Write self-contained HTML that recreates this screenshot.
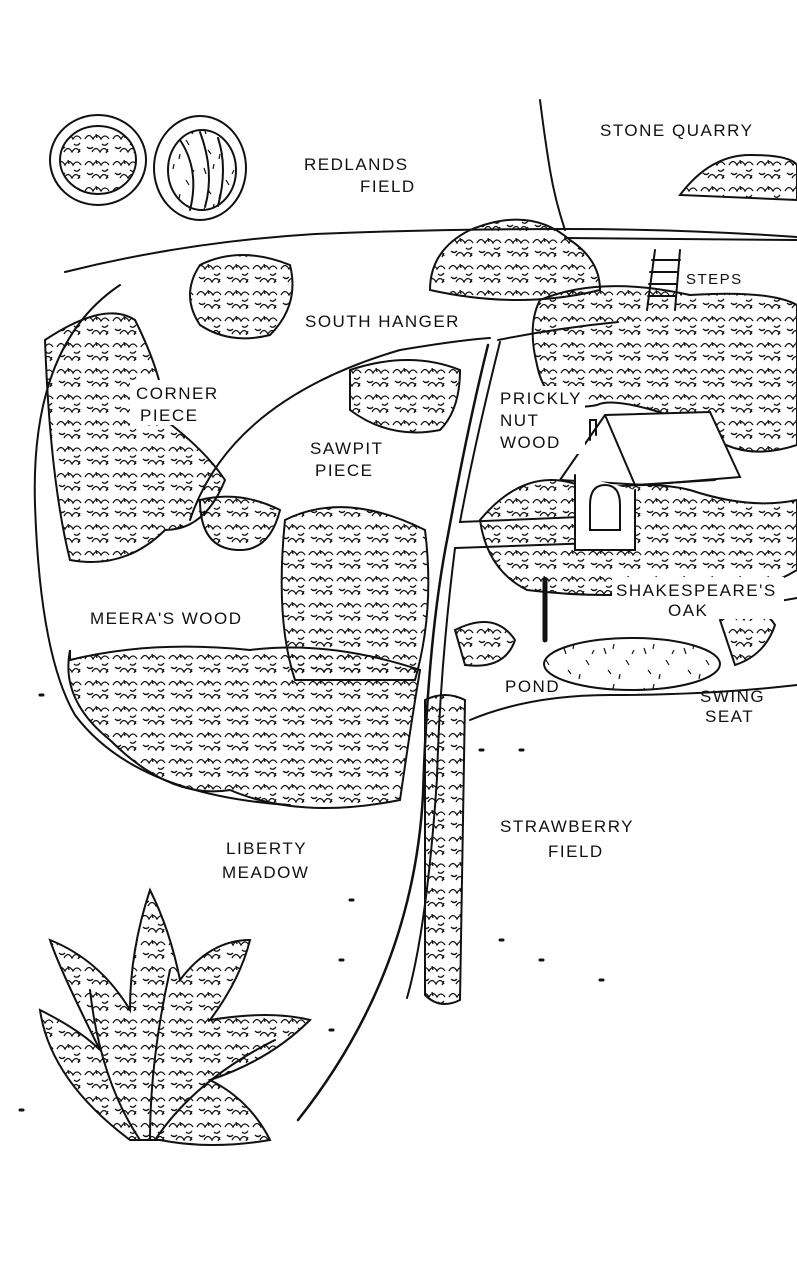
<!DOCTYPE html>
<html><head><meta charset="utf-8"><style>
html,body{margin:0;padding:0;background:#fff;}
svg{display:block}
text{font-family:"Liberation Sans",sans-serif;font-size:17px;letter-spacing:1.5px;fill:#111}
</style></head><body>
<svg width="797" height="1276" viewBox="0 0 797 1276" xmlns="http://www.w3.org/2000/svg">
<defs>
<pattern id="t" width="28" height="26" patternUnits="userSpaceOnUse">
<path d="M1 9 q4 -7 8 0 q4 -7 8 0 q4 -6 8 0 M8 22 q4 -7 8 0 q4 -7 8 0 M3 17 q3 3 6 0 M18 14 q3 3 6 -1 M12 4 l1 4 M24 19 l-2 4" fill="none" stroke="#111" stroke-width="1.3"/>
</pattern>
<pattern id="g" width="40" height="40" patternUnits="userSpaceOnUse">
<path d="M4 8 l2 6 M14 4 l-1 5 M26 20 l3 5 M34 10 l-2 4 M8 30 l3 4 M20 34 l-1 5" stroke="#111" stroke-width="1.2"/>
</pattern>
</defs>
<rect width="797" height="1276" fill="#fff"/>
<g fill="none" stroke="#111" stroke-width="2" stroke-linecap="round">
<ellipse cx="98" cy="160" rx="48" ry="45"/>
<ellipse cx="98" cy="160" rx="38" ry="34" fill="url(#t)"/>
<ellipse cx="200" cy="168" rx="46" ry="52"/>
<ellipse cx="202" cy="170" rx="34" ry="40" fill="url(#g)"/>
<path d="M180 140 q20 30 10 70 M200 132 q15 40 5 75 M218 138 q10 30 0 68"/>
<path d="M540 100 q5 40 10 70 q5 30 15 60"/>
<path d="M680 195 q30 -40 70 -40 q40 0 47 10 L797 200 Z" fill="url(#t)"/>
<path d="M65 272 q120 -30 250 -38 q120 -5 250 -5 q120 0 232 8"/>
<path d="M565 238 l232 2"/>
<path d="M655 250 l-8 60 M680 250 l-5 60 M652 260 h28 M650 272 h28 M649 284 h28 M648 296 h28"/>
<path d="M120 285 q-90 60 -85 220 q5 150 40 210 q60 80 215 90"/>
<path d="M190 520 q40 -120 210 -170 q60 -10 90 -12"/>
<path d="M498 340 q60 -12 120 -18"/>
<path d="M488 345 q-20 80 -40 190 q-20 100 -25 260 q-10 180 -125 325" stroke-width="2.5"/>
<path d="M500 342 q-25 100 -40 180 l120 -5"/>
<path d="M455 548 q-15 120 -18 230 q-10 150 -30 220"/>
<path d="M455 548 l140 -5"/>
<path d="M470 720 q60 -25 140 -25 q100 0 187 -10"/>
<path d="M740 608 l57 -10"/>
<path d="M430 290 q0 -40 40 -60 q60 -25 100 10 q30 20 30 50 q-80 20 -170 0z" fill="url(#t)"/>
<path d="M200 265 q40 -20 90 0 q10 40 -20 70 q-40 10 -70 -10 q-20 -30 0 -60z" fill="url(#t)"/>
<path d="M540 300 q60 -25 150 -5 q80 -5 107 10 l0 140 q-60 20 -100 -20 q-80 -30 -100 -20 q-50 10 -60 -40 q-10 -40 3 -65z" fill="url(#t)"/>
<path d="M45 340 q60 -40 90 -20 q30 60 30 100 q40 30 60 60 q-20 50 -60 50 q-40 40 -95 30 q-20 -80 -25 -220z" fill="url(#t)"/>
<path d="M350 370 q60 -20 110 0 q0 40 -20 60 q-50 10 -90 -20z" fill="url(#t)"/>
<path d="M285 520 q60 -30 140 10 q10 80 -10 150 l-120 0 q-20 -60 -10 -160z" fill="url(#t)"/>
<path d="M70 660 q80 -20 180 -10 q80 -10 170 20 q-10 60 -20 130 q-100 20 -170 -10 q-60 10 -120 -50 q-50 -40 -40 -90z" fill="url(#t)"/>
<path d="M200 500 q40 -10 80 10 q-10 40 -40 40 q-40 0 -40 -50z" fill="url(#t)"/>
<path d="M480 520 q50 -60 110 -30 q60 -10 100 0 q60 20 107 10 v70 q-50 30 -110 20 q-80 10 -160 0 q-40 -20 -47 -70z" fill="url(#t)"/>
<path d="M560 480 l45 -65 l105 -3 l30 65 l-95 8 z" fill="#fff"/>
<path d="M575 475 v75 h60 v-60" fill="#fff"/>
<path d="M605 415 l30 70 l80 -5"/>
<path d="M590 505 q0 -20 15 -20 q15 0 15 20 v25 h-30z"/>
<path d="M590 440 v-20 h6 v15"/>
<ellipse cx="632" cy="664" rx="88" ry="26" fill="url(#g)"/>
<path d="M455 630 q40 -20 60 10 q-10 30 -50 25z" fill="url(#t)"/>
<path d="M720 620 q40 -20 55 5 q-10 30 -40 40z" fill="url(#t)"/>
<path d="M425 700 q20 -10 40 0 l-5 300 q-20 10 -35 -5z" fill="url(#t)"/>
<path d="M545 640 v-60" stroke-width="5"/>
<path d="M130 1140 q-80 -60 -90 -130 q40 20 60 40 q-40 -80 -50 -110 q50 20 80 70 q0 -60 20 -120 q20 40 30 90 q30 -40 70 -40 q-10 40 -40 80 q60 -10 100 0 q-40 40 -100 60 q40 20 60 60 q-60 10 -110 0z" fill="url(#t)"/>
<path d="M140 1140 q-40 -60 -50 -150 M150 1140 q0 -80 20 -170 M155 1140 q40 -60 120 -100"/>
<path d="M40 695 h3 M480 750 h3 M520 750 h3 M500 940 h3 M540 960 h3 M600 980 h3 M350 900 h3 M340 960 h3 M330 1030 h3 M20 1110 h3" stroke-width="3"/>
</g>
<g>
<text x="304" y="170">REDLANDS</text><text x="360" y="192">FIELD</text>
<text x="600" y="136">STONE QUARRY</text>
<text x="686" y="284" style="font-size:15px">STEPS</text>
<rect x="300" y="305" width="180" height="25" fill="#fff"/>
<text x="305" y="327">SOUTH HANGER</text>
<rect x="130" y="380" width="95" height="45" fill="#fff"/>
<text x="136" y="399">CORNER</text><text x="140" y="421">PIECE</text>
<text x="310" y="454">SAWPIT</text><text x="315" y="476">PIECE</text>
<rect x="495" y="386" width="90" height="68" fill="#fff"/>
<text x="500" y="404">PRICKLY</text><text x="500" y="426">NUT</text><text x="500" y="448">WOOD</text>
<text x="90" y="624">MEERA'S WOOD</text>
<rect x="612" y="577" width="172" height="42" fill="#fff"/>
<text x="616" y="596">SHAKESPEARE'S</text><text x="668" y="616">OAK</text>
<text x="505" y="692">POND</text>
<text x="700" y="702">SWING</text><text x="705" y="722">SEAT</text>
<text x="500" y="832">STRAWBERRY</text><text x="548" y="857">FIELD</text>
<text x="226" y="854">LIBERTY</text><text x="222" y="878">MEADOW</text>
</g>
</svg>
</body></html>
